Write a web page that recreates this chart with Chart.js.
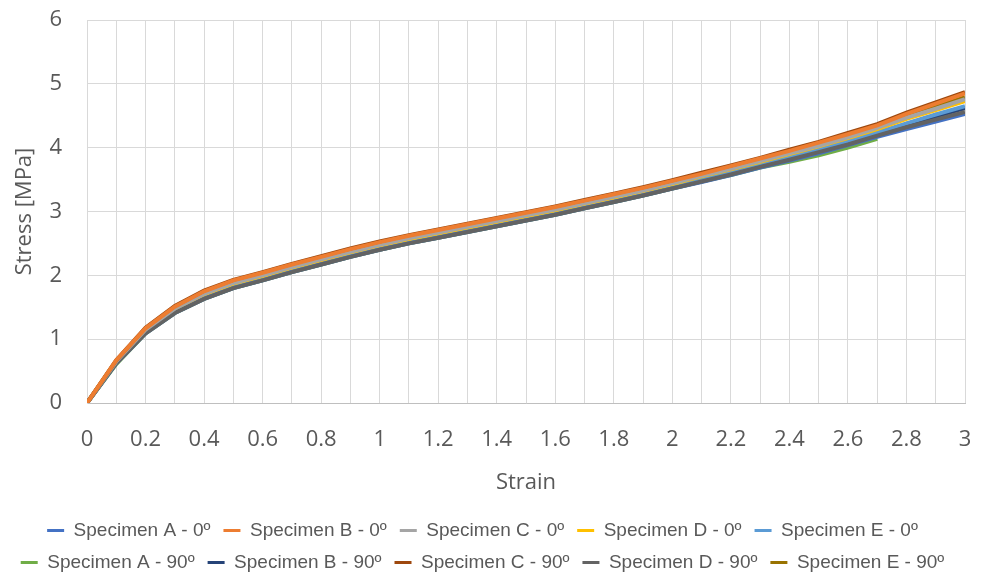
<!DOCTYPE html>
<html>
<head>
<meta charset="utf-8">
<script src="https://cdn.jsdelivr.net/npm/chart.js@4/dist/chart.umd.min.js"></script>
<style>
  html, body { margin: 0; padding: 0; background: #fff; overflow: hidden; }
  #wrap { width: 986px; height: 582px; }
</style>
</head>
<body>
<div id="wrap"><canvas id="chart" width="986" height="582"></canvas></div>
<script>
// strain values (x) shared by all specimens
const strain = [0, 0.1, 0.2, 0.3, 0.4, 0.5, 0.6, 0.7, 0.8, 0.9, 1, 1.1, 1.2, 1.3, 1.4, 1.5,
  1.6, 1.7, 1.8, 1.9, 2, 2.1, 2.2, 2.3, 2.4, 2.5, 2.6, 2.7, 2.8, 2.9, 3];

const specimenA0  = [0, 0.62, 1.09, 1.41, 1.63, 1.80, 1.92, 2.05, 2.17, 2.29, 2.40, 2.50, 2.59, 2.68, 2.77, 2.86, 2.95, 3.05, 3.15, 3.25, 3.36, 3.46, 3.57, 3.69, 3.80, 3.91, 4.04, 4.17, 4.29, 4.41, 4.53];
const specimenB0  = [0, 0.67, 1.17, 1.51, 1.75, 1.92, 2.04, 2.17, 2.29, 2.41, 2.52, 2.62, 2.71, 2.80, 2.89, 2.98, 3.07, 3.17, 3.27, 3.37, 3.48, 3.59, 3.71, 3.83, 3.95, 4.08, 4.21, 4.35, 4.53, 4.69, 4.85];
const specimenC0  = [0, 0.65, 1.15, 1.48, 1.71, 1.88, 2.00, 2.13, 2.25, 2.37, 2.48, 2.58, 2.67, 2.76, 2.85, 2.94, 3.03, 3.13, 3.23, 3.33, 3.44, 3.56, 3.67, 3.79, 3.91, 4.03, 4.16, 4.31, 4.47, 4.61, 4.76];
const specimenD0  = [0, 0.65, 1.14, 1.47, 1.70, 1.87, 1.99, 2.12, 2.24, 2.36, 2.47, 2.57, 2.66, 2.75, 2.84, 2.93, 3.02, 3.12, 3.22, 3.32, 3.43, 3.55, 3.66, 3.78, 3.90, 4.02, 4.15, 4.29, 4.45, 4.59, 4.73];
const specimenE0  = [0, 0.63, 1.11, 1.44, 1.67, 1.84, 1.96, 2.09, 2.21, 2.33, 2.44, 2.54, 2.63, 2.72, 2.81, 2.90, 2.99, 3.09, 3.19, 3.29, 3.40, 3.51, 3.62, 3.74, 3.85, 3.97, 4.10, 4.24, 4.38, 4.52, 4.65];
const specimenA90 = [0, 0.61, 1.09, 1.41, 1.63, 1.80, 1.92, 2.05, 2.17, 2.29, 2.40, 2.50, 2.59, 2.68, 2.77, 2.86, 2.95, 3.05, 3.15, 3.25, 3.36, 3.47, 3.57, 3.69, 3.78, 3.88, 4.00, 4.14];
const specimenB90 = [0, 0.63, 1.11, 1.43, 1.66, 1.83, 1.95, 2.08, 2.20, 2.32, 2.43, 2.53, 2.62, 2.71, 2.80, 2.89, 2.98, 3.08, 3.18, 3.28, 3.39, 3.49, 3.60, 3.72, 3.84, 3.96, 4.08, 4.22, 4.36, 4.49, 4.62];
const specimenC90 = [0, 0.67, 1.18, 1.52, 1.76, 1.93, 2.05, 2.18, 2.30, 2.42, 2.53, 2.63, 2.72, 2.81, 2.90, 2.99, 3.08, 3.18, 3.28, 3.38, 3.49, 3.61, 3.72, 3.84, 3.97, 4.09, 4.23, 4.37, 4.55, 4.71, 4.87];
const specimenD90 = [0, 0.62, 1.09, 1.41, 1.63, 1.80, 1.92, 2.05, 2.17, 2.29, 2.40, 2.50, 2.59, 2.68, 2.77, 2.86, 2.95, 3.05, 3.15, 3.25, 3.36, 3.47, 3.58, 3.70, 3.81, 3.93, 4.05, 4.19, 4.32, 4.44, 4.56];
const specimenE90 = [0, 0.66, 1.16, 1.49, 1.73, 1.90, 2.02, 2.15, 2.27, 2.39, 2.50, 2.60, 2.69, 2.78, 2.87, 2.96, 3.05, 3.15, 3.25, 3.35, 3.46, 3.57, 3.68, 3.80, 3.93, 4.05, 4.18, 4.33, 4.49, 4.64, 4.79];

const seriesNames = ['Specimen A - 0º', 'Specimen B - 0º', 'Specimen C - 0º', 'Specimen D - 0º', 'Specimen E - 0º',
  'Specimen A - 90º', 'Specimen B - 90º', 'Specimen C - 90º', 'Specimen D - 90º', 'Specimen E - 90º'];
const seriesValues = [specimenA0, specimenB0, specimenC0, specimenD0, specimenE0,
  specimenA90, specimenB90, specimenC90, specimenD90, specimenE90];
const seriesColors = ['#4472C4', '#ED7D31', '#A5A5A5', '#FFC000', '#5B9BD5',
  '#70AD47', '#264478', '#9E480E', '#636363', '#997300'];
// stacking of the lines (1 = drawn on top)
const drawOrder = [6, 1, 3, 7, 8, 10, 9, 2, 5, 4];

const textColor = '#595959';
const gridColor = '#D9D9D9';
const tickFont = { family: 'Open Sans', size: 22 };

new Chart(document.getElementById('chart'), {
  type: 'line',
  data: {
    datasets: seriesValues.map((vals, i) => ({
      label: seriesNames[i],
      data: vals.map((v, j) => ({ x: strain[j], y: v })),
      borderColor: seriesColors[i],
      backgroundColor: seriesColors[i],
      borderWidth: 4,
      pointRadius: 0,
      tension: 0,
      fill: false,
      order: drawOrder[i]
    }))
  },
  options: {
    responsive: false,
    animation: false,
    devicePixelRatio: 1,
    layout: { padding: { top: 20, right: 21, left: 0, bottom: 0 } },
    plugins: {
      tooltip: { enabled: false },
      legend: {
        position: 'bottom',
        labels: {
          color: textColor,
          font: { family: 'Liberation Sans', size: 19 },
          boxWidth: 17,
          boxHeight: 3,
          padding: 13,
          sort: (a, b) => a.datasetIndex - b.datasetIndex,
          generateLabels: chart =>
            Chart.defaults.plugins.legend.labels.generateLabels(chart)
              .map(l => Object.assign(l, { lineWidth: 0, fillStyle: l.strokeStyle }))
        }
      }
    },
    scales: {
      x: {
        type: 'linear',
        min: 0,
        max: 3,
        afterFit: s => { s.height = 105; s.paddingLeft = 0; s.paddingRight = 0; },
        grid: { color: gridColor, drawTicks: false },
        border: { color: '#BFBFBF' },
        ticks: {
          stepSize: 0.1,
          autoSkip: false,
          maxRotation: 0,
          padding: 24,
          color: textColor,
          font: tickFont,
          callback: v => (Math.round(v * 10) % 2 === 0 ? String(Math.round(v * 10) / 10) : '')
        },
        title: { display: true, text: 'Strain', color: textColor, font: tickFont, padding: { top: 0, bottom: 12 } }
      },
      y: {
        min: 0,
        max: 6,
        afterFit: s => { s.width = 87; s.paddingTop = 0; s.paddingBottom = 0; },
        grid: { color: gridColor, drawTicks: false },
        border: { color: gridColor },
        ticks: { stepSize: 1, padding: 25, color: textColor, font: tickFont },
        title: { display: true, text: 'Stress [MPa]', color: textColor, font: tickFont, padding: { top: 12, bottom: 0 } }
      }
    }
  }
});
</script>
</body>
</html>
